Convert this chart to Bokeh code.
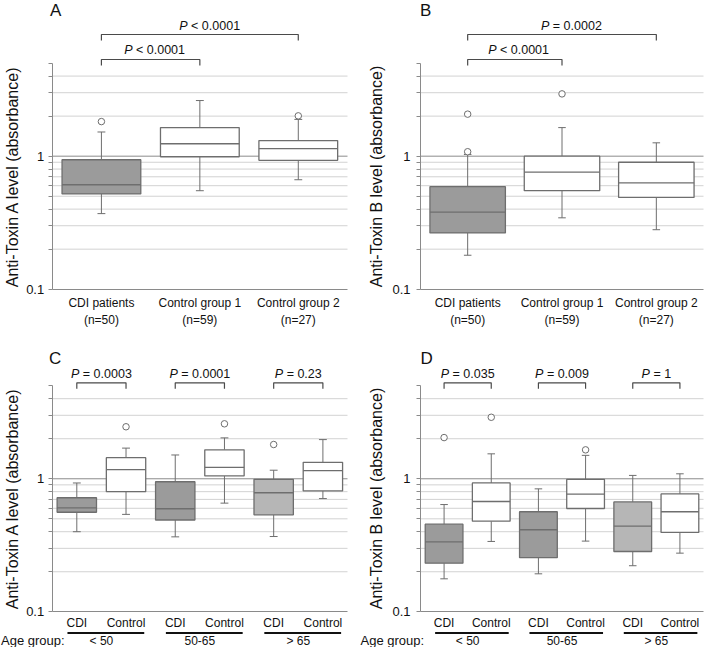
import math
from bokeh.plotting import figure
from bokeh.layouts import gridplot
from bokeh.models import ColumnDataSource, FixedTicker, Label, PolyAnnotation, Range1d
from bokeh.embed import file_html
from bokeh.resources import INLINE

# ---------------- data ----------------
ab_labels = ["CDI patients\n(n=50)", "Control group 1\n(n=59)", "Control group 2\n(n=27)"]
cd_labels = ["CDI", "Control", "CDI", "Control", "CDI", "Control"]
age_groups = ["< 50", "50-65", "> 65"]
y_ticks_major = [0.1, 1]
y_ticks_minor = [0.2, 0.3, 0.4, 0.5, 0.6, 0.7, 0.8, 0.9, 2, 3, 4]
y_min, y_max = 0.1, 5

# Panel A (anti-toxin A)
a_low = [0.37, 0.55, 0.665]
a_q1 = [0.52, 0.99, 0.93]
a_med = [0.61, 1.24, 1.14]
a_q3 = [0.94, 1.64, 1.31]
a_high = [1.52, 2.62, 1.89]
a_out_grp = [0, 2]
a_out_val = [1.82, 2.01]
a_pvals = ["< 0.0001", "< 0.0001"]

# Panel B (anti-toxin B)
b_low = [0.18, 0.344, 0.28]
b_q1 = [0.265, 0.55, 0.49]
b_med = [0.38, 0.76, 0.63]
b_q3 = [0.59, 1.0, 0.90]
b_high = [1.03, 1.64, 1.26]
b_out_grp = [0, 0, 1]
b_out_val = [2.07, 1.08, 2.94]
b_pvals = ["< 0.0001", "= 0.0002"]

# Panel C (anti-toxin A by age): CDI<50, Ctl<50, CDI 50-65, Ctl 50-65, CDI>65, Ctl>65
c_low = [0.40, 0.54, 0.366, 0.656, 0.368, 0.71]
c_q1 = [0.56, 0.80, 0.49, 1.05, 0.536, 0.81]
c_med = [0.605, 1.17, 0.595, 1.22, 0.785, 1.15]
c_q3 = [0.72, 1.44, 0.95, 1.65, 0.99, 1.33]
c_high = [0.93, 1.70, 1.51, 2.03, 1.16, 1.97]
c_out_grp = [1, 3, 4]
c_out_val = [2.46, 2.59, 1.81]
c_pvals = ["= 0.0003", "= 0.0001", "= 0.23"]

# Panel D (anti-toxin B by age)
d_low = [0.177, 0.338, 0.193, 0.34, 0.222, 0.276]
d_q1 = [0.232, 0.48, 0.255, 0.598, 0.284, 0.395]
d_med = [0.336, 0.675, 0.414, 0.766, 0.44, 0.565]
d_q3 = [0.456, 0.93, 0.565, 0.99, 0.67, 0.77]
d_high = [0.64, 1.54, 0.84, 1.50, 1.06, 1.09]
d_out_grp = [0, 1, 3]
d_out_val = [2.04, 2.9, 1.65]
d_pvals = ["= 0.035", "= 0.009", "= 1"]

# ---------------- style ----------------
FONT = "Liberation Sans"
EDGE = "#6e6e6e"
AXIS = "#8a8a8a"
GRID = "#d2d2d2"
ONE = "#8c8c8c"
TEXT = "#111111"
BRK = "#4a4a4a"
DARK_FILL = "#9b9b9b"
LIGHT_FILL = "#b6b6b6"
fills_ab = [DARK_FILL, "white", "white"]
fills_cd = [DARK_FILL, "white", DARK_FILL, "white", LIGHT_FILL, "white"]

CW = {" ": 0.278, "<": 0.584, "=": 0.584, ".": 0.278, "P": 0.667}


def tw(s, fs):
    return sum(CW.get(ch, 0.556) for ch in s) * fs


def base_fig(W, H, L, R, T, B, labels, ylabel, lab_so, axl_so, x_so):
    """Frame covers the whole canvas; plot region (x 0..n, y 0.1..5) sits at canvas L..R, T..B."""
    n = len(labels)
    upx = n / (R - L)
    decade = (B - T) / math.log10(y_max / y_min)
    xr = Range1d(-L * upx, n + (W - R) * upx)
    yr = Range1d(y_min / 10 ** ((H - B) / decade), y_max * 10 ** (T / decade))
    p = figure(width=W, height=H, x_range=xr, y_range=yr, y_axis_type="log",
               output_backend="svg", toolbar_location=None,
               min_border=0, min_border_left=0, min_border_right=0,
               min_border_top=0, min_border_bottom=0)
    p.title.visible = False
    p.outline_line_color = None
    p.background_fill_color = "white"
    p.border_fill_color = "white"
    p.xgrid.visible = False
    p.ygrid.visible = False

    # grid lines drawn over the plot region only
    p.segment(x0=[0] * len(y_ticks_minor), x1=[n] * len(y_ticks_minor), y0=y_ticks_minor,
              y1=y_ticks_minor, line_color=GRID, line_width=1, level="underlay")
    p.segment(x0=[0], x1=[n], y0=[1], y1=[1], line_color=ONE, line_width=1, level="underlay")

    ya = p.yaxis[0]
    ya.fixed_location = 0
    ya.bounds = (y_min, y_max)
    ya.ticker = FixedTicker(ticks=y_ticks_major, minor_ticks=y_ticks_minor + [y_max])
    ya.major_label_overrides = {0.1: "0.1", 1: "1"}
    ya.axis_line_color = AXIS
    ya.major_tick_line_color = AXIS
    ya.minor_tick_line_color = AXIS
    ya.major_tick_out = 4
    ya.major_tick_in = 0
    ya.minor_tick_out = 4
    ya.minor_tick_in = 0
    ya.major_label_text_font = FONT
    ya.major_label_text_font_size = "13px"
    ya.major_label_text_color = TEXT
    ya.major_label_standoff = lab_so
    ya.axis_label = ylabel
    ya.axis_label_text_font = FONT
    ya.axis_label_text_font_size = "16px"
    ya.axis_label_text_font_style = "normal"
    ya.axis_label_text_color = TEXT
    ya.axis_label_standoff = axl_so

    xa = p.xaxis[0]
    xa.fixed_location = y_min
    xa.bounds = (0, n)
    centers = [i + 0.5 for i in range(n)]
    xa.ticker = FixedTicker(ticks=centers)
    xa.major_label_overrides = {c: lab for c, lab in zip(centers, labels)}
    xa.major_tick_out = 0
    xa.major_tick_in = 0
    xa.minor_tick_out = 0
    xa.minor_tick_in = 0
    xa.major_tick_line_color = None
    xa.minor_tick_line_color = None
    xa.axis_line_color = AXIS
    xa.major_label_text_font = FONT
    xa.major_label_text_font_size = "12px"
    xa.major_label_text_color = TEXT
    xa.major_label_standoff = x_so
    return p, centers


def draw_boxes(p, centers, low, q1, med, q3, high, fills, bw, cw, out_grp, out_val):
    src = ColumnDataSource(dict(
        x=centers, low=low, q1=q1, med=med, q3=q3, high=high, fill=fills,
        bl=[c - bw / 2 for c in centers], br=[c + bw / 2 for c in centers],
        cl=[c - cw / 2 for c in centers], cr=[c + cw / 2 for c in centers]))
    p.segment(x0="x", y0="q3", x1="x", y1="high", source=src, line_color=EDGE, line_width=1)
    p.segment(x0="x", y0="low", x1="x", y1="q1", source=src, line_color=EDGE, line_width=1)
    p.segment(x0="cl", y0="high", x1="cr", y1="high", source=src, line_color=EDGE, line_width=1)
    p.segment(x0="cl", y0="low", x1="cr", y1="low", source=src, line_color=EDGE, line_width=1)
    p.vbar(x="x", width=bw, bottom="q1", top="q3", fill_color="fill", line_color=EDGE,
           line_width=1.3, source=src)
    p.segment(x0="bl", y0="med", x1="br", y1="med", source=src, line_color=EDGE, line_width=1.3)
    p.scatter(x=[centers[g] for g in out_grp], y=out_val, marker="circle", size=6.5,
              fill_color="white", line_color=EDGE, line_width=1)


def bracket(p, x1, x2, y_line, leg):
    p.add_layout(PolyAnnotation(
        xs=[x1, x1, x2, x2, x2, x1], ys=[y_line + leg, y_line, y_line, y_line + leg, y_line, y_line],
        xs_units="data", ys_units="canvas", fill_color=None, fill_alpha=0,
        line_color=BRK, line_alpha=1.0, line_width=1.2))


def ptext(p, xc, y_base, rel, fs=12.5):
    wp = tw("P", fs)
    ws = tw(" ", fs)
    total = wp + ws + tw(rel, fs)
    p.add_layout(Label(x=xc, y=y_base, x_units="data", y_units="canvas", text="P",
                       text_font=FONT, text_font_style="italic", text_font_size=f"{fs}px",
                       text_color=TEXT, text_align="left", text_baseline="alphabetic",
                       x_offset=-total / 2))
    p.add_layout(Label(x=xc, y=y_base, x_units="data", y_units="canvas", text=rel,
                       text_font=FONT, text_font_size=f"{fs}px",
                       text_color=TEXT, text_align="left", text_baseline="alphabetic",
                       x_offset=-total / 2 + wp + ws))


def letter(p, x, y, t):
    p.add_layout(Label(x=x, y=y, x_units="canvas", y_units="canvas", text=t, text_font=FONT,
                       text_font_size="17px", text_color=TEXT, text_align="left",
                       text_baseline="alphabetic"))


def top_panel(W, L, R, ylabel, lab_so, axl_so, low, q1, med, q3, high, og, ov, pvals, let, let_x):
    p, centers = base_fig(W, 329, L, R, 62.7, 288.7, ab_labels, ylabel, lab_so, axl_so, 7)
    draw_boxes(p, centers, low, q1, med, q3, high, fills_ab, 0.8, 0.08, og, ov)
    bracket(p, centers[0], centers[1], 59, 6)
    ptext(p, 1.04, 49.3, pvals[0])
    bracket(p, centers[0], centers[2], 34, 6)
    ptext(p, 1.6, 25.3, pvals[1])
    letter(p, let_x, 9.5, let)
    return p


def bottom_panel(W, L, R, ylabel, lab_so, axl_so, low, q1, med, q3, high, og, ov, pvals, let, let_x, ag_x):
    p, centers = base_fig(W, 318, L, R, 56.3, 282.3, cd_labels, ylabel, lab_so, axl_so, 4)
    draw_boxes(p, centers, low, q1, med, q3, high, fills_cd, 0.8, 0.16, og, ov)
    for g, (grp, pv) in enumerate(zip(age_groups, pvals)):
        bracket(p, centers[2 * g], centers[2 * g + 1], 53.3, 6)
        ptext(p, 2 * g + 1, 44.3, pv)
        p.add_layout(PolyAnnotation(xs=[2 * g + 0.31, 2 * g + 1.87], ys=[303.5, 303.5],
                                    xs_units="data", ys_units="canvas", fill_color=None,
                                    fill_alpha=0, line_color="#111111", line_alpha=1.0,
                                    line_width=2))
        p.add_layout(Label(x=2 * g + 1, y=311, x_units="data", y_units="canvas", text=grp,
                           text_font=FONT, text_font_size="12px", text_color=TEXT,
                           text_align="center", text_baseline="alphabetic"))
    p.add_layout(Label(x=ag_x, y=311, x_units="canvas", y_units="canvas", text="Age group:",
                       text_font=FONT, text_font_size="13px", text_color=TEXT,
                       text_align="left", text_baseline="alphabetic"))
    letter(p, let_x, 29.3, let)
    return p


pA = top_panel(356, 51.7, 347, "Anti-Toxin A level (absorbance)", 4, 2,
               a_low, a_q1, a_med, a_q3, a_high, a_out_grp, a_out_val, a_pvals, "A", 49.5)
pB = top_panel(348, 64, 347, "Anti-Toxin B level (absorbance)", 6, 4,
               b_low, b_q1, b_med, b_q3, b_high, b_out_grp, b_out_val, b_pvals, "B", 63.5)
pC = bottom_panel(356, 51.7, 347, "Anti-Toxin A level (absorbance)", 4, 2,
                  c_low, c_q1, c_med, c_q3, c_high, c_out_grp, c_out_val, c_pvals, "C", 48.5, 0.5)
pD = bottom_panel(348, 64, 347, "Anti-Toxin B level (absorbance)", 6, 4,
                  d_low, d_q1, d_med, d_q3, d_high, d_out_grp, d_out_val, d_pvals, "D", 64, 4)

layout = gridplot([[pA, pB], [pC, pD]], toolbar_location=None)

open("out.html", "w").write(file_html(layout, INLINE))
